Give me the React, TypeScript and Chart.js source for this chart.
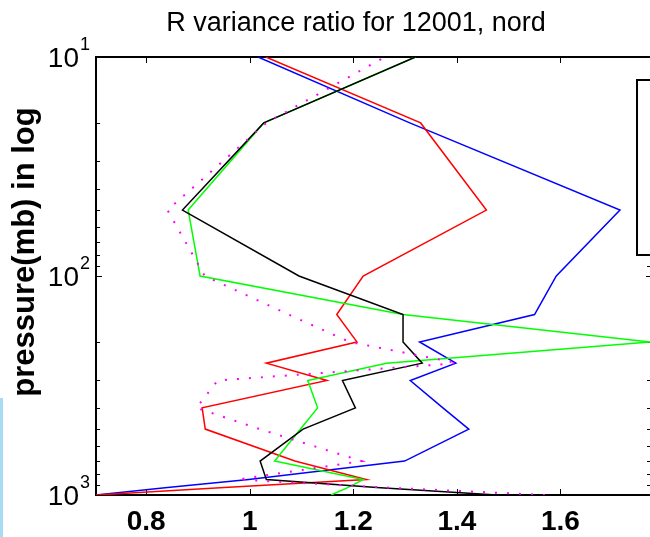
import React, { useEffect, useRef } from "react";
import { Chart, registerables } from "chart.js";

Chart.register(...registerables);

// ---- data ----
const pressureLevels = [1000, 925, 850, 700, 500, 400, 300, 250, 200, 150, 100, 50, 20, 10];
const blueSeries = [0.703, 0.841, 0.998, 1.299, 1.423, 1.373, 1.31, 1.398, 1.328, 1.55, 1.592, 1.715, 1.309, 1.016];
const redSeries = [0.703, 0.951, 1.225, 1.087, 0.914, 0.908, 1.149, 1.032, 1.207, 1.168, 1.219, 1.457, 1.33, 1.031];
const greenSeries = [1.157, 1.189, 1.219, 1.048, 1.098, 1.131, 1.112, 1.264, 1.773, 1.296, 0.904, 0.881, 1.027, 1.32];
const blackSeries = [1.477, 1.245, 1.032, 1.02, 1.103, 1.204, 1.179, 1.333, 1.296, 1.296, 1.095, 0.87, 1.027, 1.32];
const magentaSeries = [1.57, 1.264, 0.977, 1.216, 1.019, 0.897, 0.938, 1.402, 1.193, 1.075, 0.913, 0.841, 1.032, 1.261];

const xTicks = [0.8, 1, 1.2, 1.4, 1.6];
const xTickLabels = ["0.8", "1", "1.2", "1.4", "1.6"];
const yTicks = [10, 100, 1000];
const yTickExponents = ["1", "2", "3"];
const yMinorTicks = [20, 30, 40, 50, 60, 70, 80, 90, 200, 300, 400, 500, 600, 700, 800, 900];
const xMin = 0.703;
const xMax = 1.773;
const yMin = 10;
const yMax = 1000;
const titleText = "R variance ratio for 12001, nord";
const yTitleText = "pressure(mb) in log";

const FONT = "'Liberation Sans', Arial, Helvetica, sans-serif";

function toPoints(series: number[]) {
  return pressureLevels.map((p, i) => ({ x: series[i], y: p }));
}

const framePlugin = {
  id: "matlabFrame",
  beforeDatasetsDraw(chart: any) {
    const ctx = chart.ctx;
    const { left, right, top, bottom } = chart.chartArea;
    const xs = chart.scales.x;
    const ys = chart.scales.y;
    ctx.save();
    ctx.strokeStyle = "#000";
    ctx.lineWidth = 2;
    ctx.beginPath();
    ctx.moveTo(right + 2, top);
    ctx.lineTo(left, top);
    ctx.lineTo(left, bottom);
    ctx.lineTo(right + 2, bottom);
    ctx.stroke();
    ctx.lineWidth = 1;
    ctx.beginPath();
    xTicks.forEach((v) => {
      const px = Math.round(xs.getPixelForValue(v)) + 0.5;
      ctx.moveTo(px, bottom);
      ctx.lineTo(px, bottom - 6);
      ctx.moveTo(px, top);
      ctx.lineTo(px, top + 6);
    });
    yTicks.forEach((v) => {
      const py = Math.round(ys.getPixelForValue(v)) + 0.5;
      ctx.moveTo(left, py);
      ctx.lineTo(left + 6, py);
      ctx.moveTo(right + 2, py);
      ctx.lineTo(right - 4, py);
    });
    yMinorTicks.forEach((v) => {
      const py = Math.round(ys.getPixelForValue(v)) + 0.5;
      ctx.moveTo(left, py);
      ctx.lineTo(left + 4, py);
      ctx.moveTo(right + 2, py);
      ctx.lineTo(right - 3, py);
    });
    ctx.stroke();
    ctx.restore();
  },
  afterDraw(chart: any) {
    const ctx = chart.ctx;
    const ys = chart.scales.y;
    ctx.save();
    ctx.fillStyle = "#000";
    // y tick labels with superscripts
    yTicks.forEach((v, i) => {
      const py = ys.getPixelForValue(v);
      ctx.font = `28px ${FONT}`;
      ctx.textAlign = "right";
      ctx.textBaseline = "alphabetic";
      ctx.fillText("10", 79, py + 10);
      ctx.font = `18px ${FONT}`;
      ctx.textAlign = "left";
      ctx.fillText(yTickExponents[i], 80, py - 7);
    });
    // title
    ctx.font = `27px ${FONT}`;
    ctx.textAlign = "center";
    ctx.textBaseline = "alphabetic";
    ctx.fillText(titleText, 356, 31);
    // y axis title
    ctx.save();
    ctx.translate(25, 252);
    ctx.rotate(-Math.PI / 2);
    ctx.font = `bold 31px ${FONT}`;
    ctx.textAlign = "center";
    ctx.textBaseline = "middle";
    ctx.fillText(yTitleText, 0, 0);
    ctx.restore();
    // legend box (its contents lie beyond the visible area)
    ctx.fillStyle = "#fff";
    ctx.fillRect(636, 80, 40, 175);
    ctx.strokeStyle = "#000";
    ctx.lineWidth = 2;
    ctx.strokeRect(637, 80, 40, 175);
    ctx.restore();
  },
};

export default function App() {
  const canvasRef = useRef<HTMLCanvasElement | null>(null);

  useEffect(() => {
    if (!canvasRef.current) return;
    const common = { pointRadius: 0, borderWidth: 1.5, tension: 0, fill: false };
    const chart = new Chart(canvasRef.current, {
      type: "line",
      data: {
        datasets: [
          { label: "magenta", data: toPoints(magentaSeries), borderColor: "#ff00ff", borderDash: [2, 10], borderWidth: 2, pointRadius: 0, tension: 0, fill: false },
          { label: "black", data: toPoints(blackSeries), borderColor: "#000000", ...common },
          { label: "green", data: toPoints(greenSeries), borderColor: "#00ff00", ...common },
          { label: "red", data: toPoints(redSeries), borderColor: "#ff0000", ...common },
          { label: "blue", data: toPoints(blueSeries), borderColor: "#0000ff", ...common },
        ] as any,
      },
      options: {
        responsive: false,
        animation: false,
        devicePixelRatio: 1,
        layout: { padding: { top: 57, left: 0, right: 0, bottom: 0 } },
        plugins: { legend: { display: false }, title: { display: false }, tooltip: { enabled: false } },
        scales: {
          x: {
            type: "linear",
            position: "bottom",
            min: xMin,
            max: xMax,
            grid: { display: false, drawTicks: false },
            border: { display: false },
            ticks: {
              color: "#000",
              font: { family: FONT, size: 28, weight: "bold" },
              padding: 10,
              maxRotation: 0,
              autoSkip: false,
              callback: (value: any) => {
                const idx = xTicks.findIndex((t) => Math.abs(t - Number(value)) < 1e-6);
                return idx >= 0 ? xTickLabels[idx] : "";
              },
            },
            afterBuildTicks: (scale: any) => {
              scale.ticks = xTicks.map((v) => ({ value: v }));
            },
            afterFit: (scale: any) => {
              scale.height = 42;
            },
          },
          y: {
            type: "logarithmic",
            min: yMin,
            max: yMax,
            reverse: true,
            grid: { display: false },
            border: { display: false },
            ticks: { display: false },
            afterFit: (scale: any) => {
              scale.width = 96;
            },
          },
        },
      } as any,
      plugins: [framePlugin],
    });
    return () => chart.destroy();
  }, []);

  return (
    <div style={{ position: "absolute", left: 0, top: 0, width: 650, height: 537, background: "#fff", overflow: "hidden" }}>
      <canvas ref={canvasRef} width={650} height={537} style={{ display: "block" }} />
      <div style={{ position: "absolute", left: 0, top: 398, width: 3, height: 139, background: "#a6dcf6" }} />
    </div>
  );
}
